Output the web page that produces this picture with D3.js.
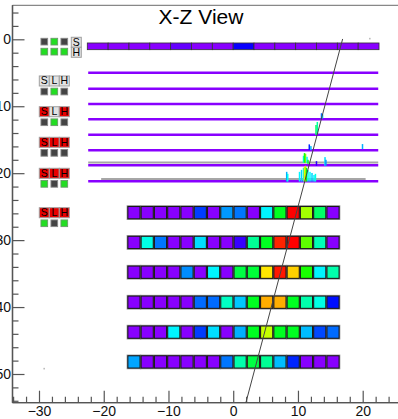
<!DOCTYPE html>
<html><head><meta charset="utf-8">
<script src="https://cdn.jsdelivr.net/npm/d3@7"></script>
<style>
html,body{margin:0;padding:0;background:#fff;}
svg{display:block;font-family:"Liberation Sans",Arial,sans-serif;}
</style></head>
<body>
<script>
// ---------- data ----------
const title = "X-Z View";
const xTicksMajor = [-30, -20, -10, 0, 10, 20];
const yTicksMajor = [0, 10, 20, 30, 40, 50];
// top segmented bar (14 segments), energy 0-100
const topBarValues = [0, 0, 0, 0, 3, 0, 0, 11, 0, 0, 0, 0, 0, 0];
// strip layers (z positions) and grey layers [z, xStart, xEnd]
const stripZ = [4.99, 7.38, 9.67, 11.95, 14.27, 16.57, 18.82, 21.21];
const greyLayers = [[18.40, -22.4, 22.4], [20.87, -20.4, 20.45]];
// calorimeter rows: top z and 16 cell energies
const calRowZ = [24.9, 29.35, 33.8, 38.28, 42.75, 47.2];
const calRows = [
  [0, 0, 0, 0, 0, 17, 0, 25, 22, 0, 33, 53, 100, 70, 47, 0],
  [0, 36, 22, 0, 0, 31, 0, 0, 7, 43, 53, 97, 100, 64, 40, 0],
  [0, 0, 0, 0, 24, 0, 33, 0, 50, 51, 80, 98, 82, 58, 33, 41],
  [0, 0, 0, 0, 0, 21, 21, 39, 29, 53, 85, 85, 53, 41, 36, 13],
  [0, 0, 0, 33, 0, 17, 31, 0, 27, 53, 73, 53, 53, 28, 18, 21],
  [26, 0, 0, 0, 0, 0, 0, 22, 41, 50, 43, 28, 15, 0, 0, 0]
];
const calModules = [[0, 0], [1, 6], [7, 11], [12, 15]];
// hits: [x, zTop, zBottom, energy]
const hits = [
  [13.64, 11.05, 11.9, 20], [13.8, 11.2, 11.8, 30],
  [12.79, 12.8, 14.3, 48], [12.99, 12.35, 14.15, 42],
  [11.75, 15.7, 16.55, 15], [12.0, 15.95, 16.55, 28],
  [19.97, 15.65, 16.4, 27],
  [10.86, 17.4, 18.45, 36], [11.01, 17.0, 18.45, 55], [11.17, 17.1, 18.45, 66],
  [11.4, 17.55, 18.45, 33], [11.55, 18.0, 18.6, 52],
  [12.86, 18.2, 18.9, 8], [14.18, 17.6, 18.9, 31], [14.32, 18.0, 18.9, 25],
  [10.24, 19.8, 21.25, 33], [10.55, 19.5, 21.25, 30], [10.86, 19.2, 21.25, 38],
  [11.01, 19.05, 21.25, 80], [11.17, 18.9, 21.25, 72], [11.32, 19.2, 21.25, 55],
  [11.55, 19.5, 21.25, 36], [11.86, 19.8, 21.25, 34], [12.17, 19.97, 21.25, 30],
  [12.48, 20.27, 21.25, 33], [12.7, 20.1, 21.25, 36],
  [8.26, 19.8, 21.25, 27], [8.42, 20.1, 21.25, 35]
];
const noise = [[21.1, -0.1], [-29.2, 49.2]];
// fitted track: [x, z] end points
const track = [[16.9, -0.05], [1.95, 54.3]];
// trigger indicators
const indTop = {z: -0.15, rows: [[0, 1, 0], [1, 1, 1]], labels: ["S", "H"]};
const indLabels = ["S", "L", "H"];
const indGroups = [
  {z: 5.48, lab: [0, 0, 0], sq: [0, 1, 0]},
  {z: 10.07, lab: [1, 0, 1], sq: [0, 1, 0]},
  {z: 14.64, lab: [1, 1, 1], sq: [0, 0, 0]},
  {z: 19.27, lab: [1, 1, 1], sq: [1, 0, 1]},
  {z: 25.16, lab: [1, 1, 1], sq: [1, 0, 1]}
];

// ---------- chart ----------
const W = 398, H = 419;
const fx0 = 12.5, fx1 = 398, fy0 = 5.3, fy1 = 402.7;
const x = d3.scaleLinear().domain([-30, 20]).range([39, 362.7]);
const y = d3.scaleLinear().domain([0, 50]).range([39.3, 374]);
const xDom = [x.invert(fx0), x.invert(fx1)];
const yDom = [y.invert(fy0), y.invert(fy1)];
const color = v => d3.hsl(272 * (1 - v / 100), 1, 0.5).formatHex();

const svg = d3.select("body").append("svg").attr("width", W).attr("height", H);

// frame top
svg.append("line").attr("x1", fx0).attr("x2", fx1).attr("y1", fy0).attr("y2", fy0)
  .attr("stroke", "#888").attr("stroke-width", 1.2);

// axes
function minorTicks(dom, step) {
  const out = [];
  for (let v = Math.ceil(dom[0] / step) * step; v <= dom[1]; v += step)
    if (Math.abs(v % 10) > 1e-6) out.push(v);
  return out;
}
const xa = x.copy().domain(xDom).range([fx0, fx1]);
const ya = y.copy().domain(yDom).range([fy0, fy1]);
const gx = svg.append("g").attr("transform", `translate(0,${fy1})`);
gx.call(d3.axisBottom(xa).tickValues(xTicksMajor).tickSize(-12).tickPadding(3).tickFormat(d3.format("d")));
gx.append("g").call(d3.axisBottom(xa).tickValues(minorTicks(xDom, 2)).tickSize(-6).tickFormat(""));
const gy = svg.append("g").attr("transform", `translate(${fx0},0)`);
gy.call(d3.axisLeft(ya).tickValues(yTicksMajor).tickSize(-12).tickPadding(1.5).tickFormat(d3.format("d")));
gy.append("g").call(d3.axisLeft(ya).tickValues(minorTicks(yDom, 2)).tickSize(-6).tickFormat(""));
svg.selectAll(".domain").attr("stroke", "#555").attr("stroke-width", 1.3);
svg.selectAll(".tick line").attr("stroke", "#555").attr("stroke-width", 1.2);
svg.selectAll(".tick text").attr("font-size", 14).attr("fill", "#111")
  .attr("font-family", "'Liberation Sans',Arial,sans-serif");
gx.selectAll(".domain").attr("d", `M${fx0},0H${fx1}`);
gy.selectAll(".domain").attr("d", `M0,${fy0}V${fy1}`);

// title
svg.append("text").attr("x", 201).attr("y", 24).attr("text-anchor", "middle")
  .attr("font-size", 21).attr("fill", "#000").text(title);

// top bar
const barX0 = -22.54, barX1 = 22.52, barZ0 = 0.55, barZ1 = 1.55;
const segW = (barX1 - barX0) / topBarValues.length;
svg.append("g").selectAll("rect").data(topBarValues).join("rect")
  .attr("x", (d, i) => x(barX0 + i * segW)).attr("width", x(segW) - x(0))
  .attr("y", y(barZ0)).attr("height", y(barZ1) - y(barZ0))
  .attr("fill", d => color(d)).attr("stroke", "#333").attr("stroke-width", 0.8);

// strips
svg.append("g").selectAll("line").data(greyLayers).join("line")
  .attr("x1", d => x(d[1])).attr("x2", d => x(d[2])).attr("y1", d => y(d[0])).attr("y2", d => y(d[0]))
  .attr("stroke", "#a6a6a6").attr("stroke-width", 2);
svg.append("g").selectAll("line").data(stripZ).join("line")
  .attr("x1", x(-22.4)).attr("x2", x(22.4)).attr("y1", d => y(d)).attr("y2", d => y(d))
  .attr("stroke", "#8800ff").attr("stroke-width", 2.4);

// hits
svg.append("g").selectAll("rect").data(hits).join("rect")
  .attr("x", d => x(d[0]) - 0.75).attr("width", 1.5)
  .attr("y", d => y(d[1])).attr("height", d => y(d[2]) - y(d[1]))
  .attr("fill", d => color(d[3]));

// calorimeter
const cellX0 = -16.36, cellW = 2.05, cellH = 1.99;
const cal = svg.append("g");
calRows.forEach((row, r) => {
  const z0 = calRowZ[r];
  cal.append("g").selectAll("rect").data(calModules).join("rect")
    .attr("x", d => x(cellX0 + d[0] * cellW) - 0.3)
    .attr("width", d => x(cellX0 + (d[1] + 1) * cellW) - x(cellX0 + d[0] * cellW) + 0.6)
    .attr("y", y(z0) - 0.3).attr("height", y(z0 + cellH) - y(z0) + 0.6)
    .attr("fill", "#a0a0a0").attr("stroke", "#a0a0a0").attr("stroke-width", 0.8);
  cal.append("g").selectAll("rect").data(row).join("rect")
    .attr("x", (d, i) => x(cellX0 + i * cellW) + 0.55)
    .attr("width", x(cellW) - x(0) - 1.1)
    .attr("y", y(z0) + 0.5).attr("height", y(z0 + cellH) - y(z0) - 1.0)
    .attr("fill", d => color(d)).attr("stroke", "#1a1a1a").attr("stroke-width", 1.1);
});

// track
svg.append("line").attr("x1", x(track[0][0])).attr("y1", y(track[0][1]))
  .attr("x2", x(track[1][0])).attr("y2", y(track[1][1]))
  .attr("stroke", "#444").attr("stroke-width", 1);

// noise points
svg.append("g").selectAll("rect").data(noise).join("rect")
  .attr("x", d => x(d[0]) - 0.8).attr("y", d => y(d[1]) - 0.8).attr("width", 1.6).attr("height", 1.6)
  .attr("fill", "#bbb");

// indicators
const indX = x(-30) + 0.3;   // left of label boxes
const boxW = 10, sqS = 6.7;
const ind = svg.append("g").attr("font-size", 10.5).attr("text-anchor", "middle");
function square(g, cx, top, on) {
  g.append("rect").attr("x", cx - sqS / 2).attr("y", top).attr("width", sqS).attr("height", sqS)
    .attr("fill", on ? "#22dd22" : "#444").attr("stroke", on ? "#6a9a6a" : "#888").attr("stroke-width", 0.9);
}
function label(g, lx, top, txt, on) {
  g.append("rect").attr("x", lx).attr("y", top).attr("width", boxW).attr("height", boxW)
    .attr("fill", on ? "#e80000" : "#e2e2e2").attr("stroke", "#a0a0a0").attr("stroke-width", 1);
  g.append("text").attr("x", lx + boxW / 2).attr("y", top + boxW - 1.5).attr("fill", "#000").text(txt);
}
// top group
indTop.rows.forEach((row, r) => {
  const top = y(indTop.z) + r * 10;
  row.forEach((on, i) => square(ind, indX + 5 + i * 10, top, on));
  label(ind, indX + 32, top - 1, indTop.labels[r], 0);
});
indGroups.forEach(gr => {
  const top = y(gr.z);
  indLabels.forEach((t, i) => label(ind, indX + i * boxW, top, t, gr.lab[i]));
  gr.sq.forEach((on, i) => square(ind, indX + 5 + i * 10, top + boxW + 2.2, on));
});
</script>
</body></html>
